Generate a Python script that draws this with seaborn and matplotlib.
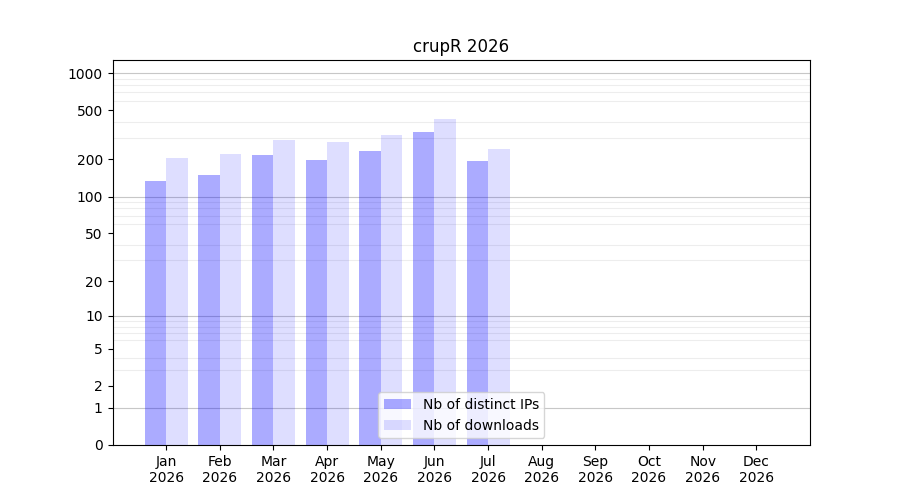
import numpy as np
import pandas as pd
import seaborn as sns
import matplotlib.pyplot as plt

months = ['Jan', 'Feb', 'Mar', 'Apr', 'May', 'Jun', 'Jul', 'Aug', 'Sep', 'Oct', 'Nov', 'Dec']
year = 2026
ips = [134, 149, 216, 198, 234, 333, 194]
downloads = [204, 220, 287, 277, 313, 425, 243]
series_names = ['Nb of distinct IPs', 'Nb of downloads']

df = pd.DataFrame({
    'month': months[:len(ips)] * 2,
    'value': ips + downloads,
    'kind': [series_names[0]] * len(ips) + [series_names[1]] * len(downloads),
})

fig, ax = plt.subplots(figsize=(9, 5), dpi=100)

sns.barplot(data=df, x='month', y='value', hue='kind', order=months,
            hue_order=series_names, palette=['blue', 'blue'], width=0.8,
            saturation=1, legend=False, ax=ax)

# same blue, different transparency
for cont, a in zip(ax.containers, [0.33, 0.13]):
    for p in cont:
        p.set_alpha(a)
        p.set_edgecolor('none')

# log(1+x) scale so that 0 fits on the axis
ax.set_yscale('function', functions=(lambda v: np.log10(1 + np.clip(v, -0.999, None)),
                                     lambda v: 10 ** v - 1))
ax.set_ylim(0, max(downloads) * 3)
ax.set_yticks([0, 1, 2, 5, 10, 20, 50, 100, 200, 500, 1000])
ax.set_yticklabels(['0', '1', '2', '5', '10', '20', '50', '100', '200', '500', '1000'])
minor = [m * 10 ** k for k in range(0, 3) for m in range(2, 10)]
ax.set_yticks(minor, minor=True)
ax.tick_params(axis='y', which='minor', length=0)
ax.grid(axis='y', which='minor', color='0.93', lw=0.8)
for d in [1, 10, 100, 1000]:
    ax.axhline(d, color='0.78', lw=0.8, zorder=0)
ax.set_axisbelow(True)

ax.set_xlim(-1, 12)
ax.set_xticks(range(len(months)))
ax.set_xticklabels([f'{m}\n{year}' for m in months])
ax.set_xlabel('')
ax.set_ylabel('')
ax.set_title(f'crupR {year}')

ax.legend(ax.containers, series_names, loc='lower center')

fig.savefig('out.png', dpi=100)
